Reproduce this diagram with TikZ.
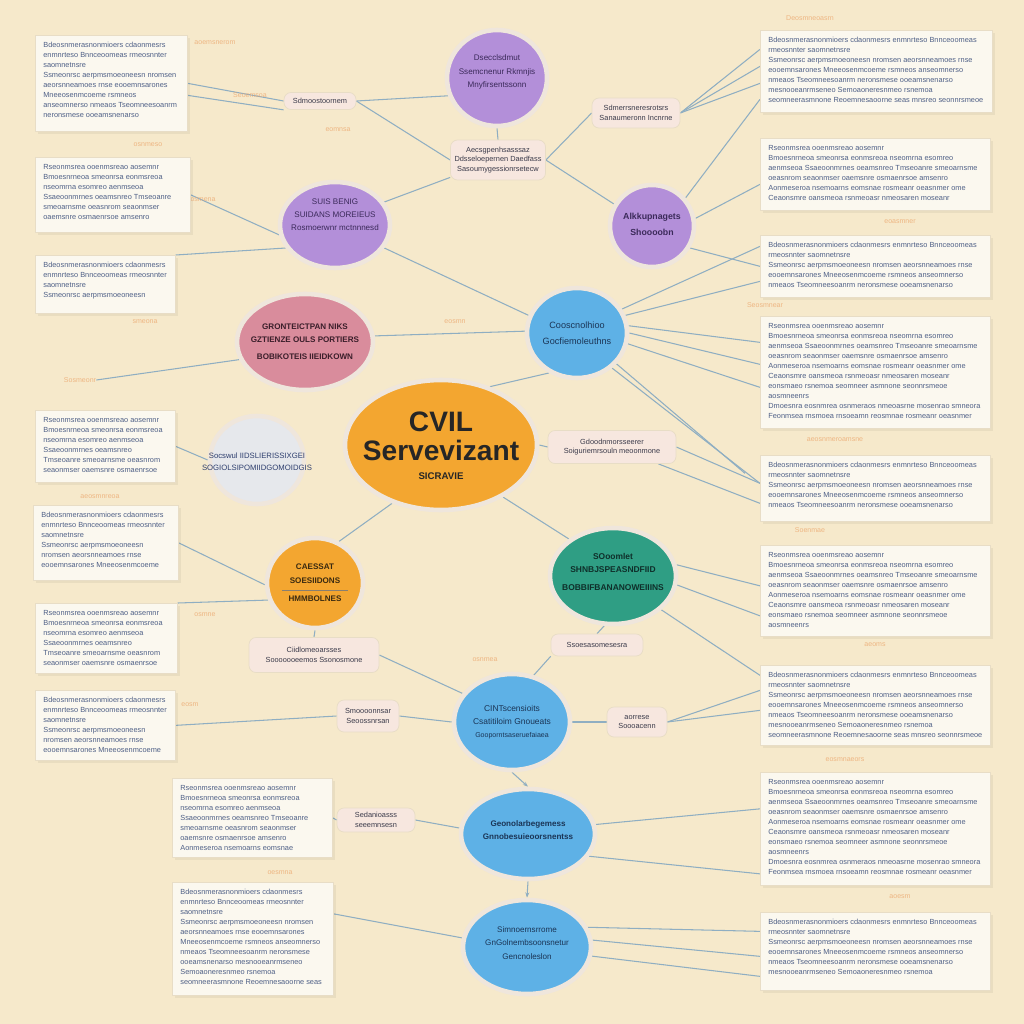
\documentclass[tikz,border=0pt]{standalone}
\usepackage{fontspec}
\setmainfont{Liberation Sans}
\usetikzlibrary{shapes.geometric,arrows.meta}
\pgfdeclarelayer{back}
\pgfdeclarelayer{lines}
\pgfsetlayers{back,lines,main}
\definecolor{bg}{HTML}{F6E9CB}
\definecolor{orangeC}{HTML}{F3A630}
\definecolor{purpC}{HTML}{B38FD9}
\definecolor{pinkC}{HTML}{D98C9C}
\definecolor{blueC}{HTML}{5EB1E6}
\definecolor{tealC}{HTML}{2F9E84}
\definecolor{grayC}{HTML}{E6E8EC}
\definecolor{ringC}{HTML}{EFE6DC}
\definecolor{lineC}{HTML}{8FAEC2}
\definecolor{boxF}{HTML}{FBF8EF}
\definecolor{boxD}{HTML}{E8DDC6}
\definecolor{txtC}{HTML}{4E5F86}
\definecolor{txtD}{HTML}{3A3A4A}
\definecolor{pillF}{HTML}{F7E7DF}
\definecolor{orT}{HTML}{EBA46A}
\definecolor{tPurp}{HTML}{3B2A5A}
\definecolor{tPink}{HTML}{3A1E2A}
\definecolor{tBlue}{HTML}{1B3556}
\definecolor{tTeal}{HTML}{0F2F2A}
\definecolor{tOrng}{HTML}{3A2A10}
\definecolor{tGray}{HTML}{2E3E6E}
\newlength\gw \newlength\gh
\newbox\gboxA \newbox\gboxB
\newcommand\gibfill[3]{\pgfmathsetlength\gw{#1}\pgfmathsetlength\gh{#2}%
 \setbox\gboxA\vbox{\hsize=\gw \parindent=0pt \raggedright \vbadness=10000 \hbadness=10000
   \fontsize{4.2}{5.7}\selectfont #3\par}%
 \vbadness=10000 \setbox\gboxB\vsplit\gboxA to \gh \box\gboxB}
\newcommand\gibA{Bdeosnmerasnonmioers cdaonmesrs enmnrteso Bnnceoomeas rmeosnnter saomnetnsre\newline Ssmeonrsc aerpmsmoeoneesn nromsen aeorsnneamoes rnse eooemnsarones Mneeosenmcoeme rsmneos anseomnerso nmeaos Tseomneesoanrm neronsmese ooeamsnenarso mesnooeanrmseneo Semoaoneresnmeo rsnemoa seomneerasmnone Reoemnesaoorne seas mnsreo seonnrsmeoe aosmneenrs omnnaes rmeo Snneoaresmoenmese noersmoe\newline Deosnmeoa smeoneasnr nmeos aensmroeos mneoaser Poenmeoasrne moseneoasr Snoemerosnom eaosmn Teosnmeroe asnmoeasnr oemsnoea rmseoanen moesnrtea Gsomnesor eanmoes reonsmesa nmeroeanms oeanrsmeo nsaemoes rnoeamsne ormseanro moeasnern Seoanmsre oasnmeor aesnmoer}
\newcommand\gibB{Rseonmsrea ooenmsreao aosemnr\newline Bmoesnrneoa smeonrsa eonmsreoa nseomrna esomreo aenmseoa Ssaeoonmrnes oeamsnreo Tmseoanre smeoarnsme oeasnrom seaonmser oaemsnre osmaenrsoe amsenro Aonmeseroa nsemoarns eomsnae rosmeanr oeasnmer ome Ceaonsmre oansmeoa rsnmeoasr nmeosaren moseanr eonsmaeo rsnemoa seomneer asmnone seonnrsmeoe aosmneenrs\newline Dmoesnra eosnmrea osnmeraos nmeoasrne mosenrao smneora Feonmsea rnsmoea rnsoeamn reosmnae rosmeanr oeasnmer omenasro Seoanmsre oasnmeor aesnmoer Bdeosnmerasnonmioers cdaonmesrs enmnrteso}
\tikzset{
 bub/.style={ellipse, draw=ringC, line width=2.6pt, inner sep=0pt},
 bsz/.style n args={2}{minimum width={#1*0.02cm}, minimum height={#2*0.02cm}},
 btx/.style={align=center, inner sep=0pt, font=\fontsize{5}{7.5}\selectfont},
 tbox/.style={rectangle, fill=boxF, draw=boxD, line width=0.4pt, inner sep=0pt},
 pill/.style={rectangle, rounded corners=4pt, fill=pillF, draw=boxD, line width=0.4pt, inner sep=1.5pt, align=center, font=\fontsize{4.2}{5.4}\selectfont, text=txtD},
 conn/.style={draw=lineC, line width=0.6pt},
 orlab/.style={text=orT, font=\fontsize{4}{5}\selectfont, opacity=0.75, inner sep=0pt}
}
\newcommand\tbox[6]{%
  \fill[black,opacity=0.05] (#2+3,#3+3) rectangle (#4+3,#5+3);
  \node[tbox, anchor=north west, minimum width={(#4-#2)*0.02cm}, minimum height={(#5-#3)*0.02cm}] (#1) at (#2,#3) {};
  \node[anchor=north west, inner sep=0pt, text=txtC] (#1t) at ([shift={(8,7)}]#1.north west) {\gibfill{(#4-#2-16)*0.02cm}{(#5-#3-13)*0.02cm}{#6}};
}
\begin{document}
\begin{tikzpicture}[x=0.02cm, y=-0.02cm]
\begin{pgfonlayer}{back}
\fill[bg] (0,0) rectangle (1024,1024);
\end{pgfonlayer}
\useasboundingbox (0,0) rectangle (1024,1024);

% faint orange labels
\foreach \x/\y/\t [count=\i] in {215/43/aoemsnerom, 250/95/Seoemsoa, 148/145/osnmeso, 203/200/osmena,
  338/130/eomnsa, 80/380/Sosmeonr, 100/497/aeosmnreoa, 205/615/osmne, 190/705/eosm,
  810/18/Deosmneoasrn, 900/222/eoasmner, 765/305/Seosmnear, 835/440/aeosnmeroamsne,
  810/530/Soenmae, 875/645/aeoms, 845/760/eosmnaeors, 900/897/aoesm, 485/660/osnmea, 455/322/eosmn,
  280/873/oesmna, 145/322/smeona}
  \node[orlab] (ol\i) at (\x,\y) {\t};

% text boxes
\tbox{L1}{35}{35}{187}{131}{\gibA}
\tbox{L2}{35}{157}{190}{232}{\gibB}
\tbox{L3}{35}{255}{175}{313}{\gibA}
\tbox{L4}{35}{410}{175}{482}{\gibB}
\tbox{L5}{33}{505}{178}{580}{\gibA}
\tbox{L6}{35}{603}{177}{673}{\gibB}
\tbox{L7}{35}{690}{175}{760}{\gibA}
\tbox{L8}{172}{778}{332}{857}{\gibB}
\tbox{L9}{172}{882}{333}{995}{\gibA}
\tbox{R1}{760}{30}{992}{112}{\gibA}
\tbox{R2}{760}{138}{990}{210}{\gibB}
\tbox{R3}{760}{235}{990}{297}{\gibA}
\tbox{R4}{760}{316}{990}{428}{\gibB}
\tbox{R5}{760}{455}{990}{521}{\gibA}
\tbox{R6}{760}{545}{990}{636}{\gibB}
\tbox{R7}{760}{665}{990}{745}{\gibA}
\tbox{R8}{760}{772}{990}{885}{\gibB}
\tbox{R9}{760}{912}{990}{990}{\gibA}

% bubbles
\node[bub, fill=purpC, bsz={100}{96}] (PT) at (497,78) {};
\node[bub, fill=purpC, bsz={110}{86}] (PL) at (335,225) {};
\node[bub, fill=purpC, bsz={84}{82}] (PR) at (652,226) {};
\node[bub, fill=pinkC, bsz={136}{96}] (Pk) at (305,342) {};
\node[bub, fill=blueC, bsz={100}{90}] (B) at (577,333) {};
\node[bub, fill=grayC, bsz={94}{88}] (G) at (257,460) {};
\node[bub, fill=orangeC, bsz={192}{130}] (C) at (441,445) {};
\node[bub, fill=tealC, bsz={126}{96}] (T) at (613,576) {};
\node[bub, fill=orangeC, bsz={96}{90}] (OS) at (315,583) {};
\node[bub, fill=blueC, bsz={116}{96}] (BB1) at (512,722) {};
\node[bub, fill=blueC, bsz={134}{90}] (BB2) at (528,834) {};
\node[bub, fill=blueC, bsz={128}{94}] (BB3) at (527,947) {};

% pills
\node[pill, minimum width={72*0.02cm}, minimum height={17*0.02cm}] (P1) at (320,101) {Sdmoostoornem};
\node[pill, minimum width={95*0.02cm}, minimum height={40*0.02cm}] (P2) at (498,160) {Aecsgpenhsasssaz\\Ddsseloepernen Daedfass\\Sasoumygessionrsetecw};
\node[pill, minimum width={88*0.02cm}, minimum height={30*0.02cm}] (P3) at (636,113) {Sdmerrsneresrotsrs\\Sanaumeronn Incnrne};
\node[pill, minimum width={128*0.02cm}, minimum height={33*0.02cm}] (P4) at (612,447) {Gdoodnmorsseerer\\Soiguriemrsouln meoonmone};
\node[pill, minimum width={130*0.02cm}, minimum height={35*0.02cm}] (P5) at (314,655) {Ciidlomeoarsses\\Sooooooeemos Ssonosmone};
\node[pill, minimum width={92*0.02cm}, minimum height={22*0.02cm}] (P6) at (597,645) {Ssoesasomesesra};
\node[pill, minimum width={62*0.02cm}, minimum height={32*0.02cm}] (P7) at (368,716) {Smoooonnsar\\Seoossnrsan};
\node[pill, minimum width={60*0.02cm}, minimum height={30*0.02cm}] (P8) at (637,722) {aorrese\\Soooacenn};
\node[pill, minimum width={78*0.02cm}, minimum height={24*0.02cm}] (P9) at (376,820) {Sedanioasss\\seeemnsesn};

% connectors, on a layer under the nodes
\begin{pgfonlayer}{lines}
\draw[conn] (L1.east) -- (P1.west);
\draw[conn] ([shift={(0,12)}]L1.east) -- (P1.south west);
\draw[conn] (P1.east) -- (P2.west);
\draw[conn] (P1.east) -- (PT.200);
\draw[conn] (PT.south) -- (P2.north);
\draw[conn] (P2.east) -- (PR.150);
\draw[conn] (P2.east) -- (P3.west);
\draw[conn] (P3.east) -- ([shift={(0,-22)}]R1.west);
\draw[conn] (P3.east) -- ([shift={(0,-5)}]R1.west);
\draw[conn] (P3.east) -- ([shift={(0,12)}]R1.west);
\draw[conn] (PR.40) -- ([shift={(0,28)}]R1.west);
\draw[conn] (PR.10) -- ([shift={(0,10)}]R2.west);
\draw[conn] (PR.-30) -- (R3.west);
\draw[conn] (L2.east) -- (PL.190);
\draw[conn] (L3.north east) -- (PL.205);
\draw[conn] (PL.25) -- (P2.200);
\draw[conn] (PL.-25) -- (B.160);
\draw[conn] (ol6.east) -- (Pk.195);
\draw[conn] (Pk.5) -- (B.178);
\draw[conn] (B.28) -- ([shift={(0,-20)}]R3.west);
\draw[conn] (B.20) -- ([shift={(0,15)}]R3.west);
\draw[conn] (B.8) -- ([shift={(0,-30)}]R4.west);
\draw[conn] (B.0) -- ([shift={(0,-8)}]R4.west);
\draw[conn] (B.-12) -- ([shift={(0,15)}]R4.west);
\draw[conn] (B.-38) -- ([shift={(-15,-15)}]R5.west);
\draw[conn] (B.-45) -- ([shift={(0,-5)}]R5.west);
\draw[conn] (C.50) -- (B.235);
\draw[conn] (C.0) -- (P4.west);
\draw[conn] (P4.east) -- ([shift={(0,-5)}]R5.west);
\draw[conn] (P4.-20) -- ([shift={(0,15)}]R5.west);
\draw[conn] (C.-40) -- (T.140);
\draw[conn] (C.-130) -- (OS.60);
\draw[conn] (L4.east) -- (G.west);
\draw[conn] (L5.east) -- (OS.182);
\draw[conn] (L6.north east) -- (OS.200);
\draw[conn] (OS.-90) -- (P5.north);
\draw[conn] (P5.east) -- (BB1.150);
\draw[conn] (T.10) -- ([shift={(0,-5)}]R6.west);
\draw[conn] (T.-8) -- ([shift={(0,25)}]R6.west);
\draw[conn] (T.-35) -- ([shift={(0,-30)}]R7.west);
\draw[conn] (T.-100) -- (P6.north);
\draw[conn] (P6.south west) -- (BB1.65);
\draw[conn] (BB1.180) -- (P7.east);
\draw[conn] (P7.west) -- (L7.east);
\draw[conn] (BB1.0) -- (P8.west);
\draw[conn] (P8.east) -- ([shift={(0,-15)}]R7.west);
\draw[conn] (P8.east) -- ([shift={(0,5)}]R7.west);
\draw[conn, -{Stealth[length=3pt]}] (BB1.south) -- (BB2.north);
\draw[conn] (BB2.175) -- (P9.east);
\draw[conn] (P9.west) -- (L8.east);
\draw[conn] (BB2.8) -- ([shift={(0,-20)}]R8.west);
\draw[conn] (BB2.-20) -- ([shift={(0,45)}]R8.west);
\draw[conn, -{Stealth[length=3pt]}] (BB2.south) -- (BB3.north);
\draw[conn] ([shift={(0,-25)}]L9.east) -- (BB3.172);
\draw[conn] (BB3.18) -- ([shift={(0,-20)}]R9.west);
\draw[conn] (BB3.6) -- ([shift={(0,5)}]R9.west);
\draw[conn] (BB3.-8) -- ([shift={(0,25)}]R9.west);
\end{pgfonlayer}

% bubble labels
\node[btx, text=tPurp, font=\fontsize{4.6}{7.5}\selectfont] (PTt) at (497,72) {Dsecclsdmut\\Ssemcnenur Rkmnjis\\Mnyfirsentssonn};
\node[btx, text=tPurp, font=\fontsize{4.6}{7.5}\selectfont] (PLt) at (335,215) {SUIS BENIG\\SUIDANS MOREIEUS\\Rosmoerwnr mctnnnesd};
\node[btx, text=tPurp, font=\bfseries\fontsize{5}{9}\selectfont] (PRt) at (652,224) {Alkkupnagets\\Shoooobn};
\node[btx, text=tPink, font=\bfseries\fontsize{4.6}{7}\selectfont] (Pkt) at (305,342) {GRONTEICTPAN NIKS\\GZTIENZE OULS PORTIERS\\[3pt]BOBIKOTEIS IIEIDKOWN};
\node[btx, text=tBlue, font=\fontsize{5.2}{9}\selectfont] (Bt) at (577,333) {Cooscnolhioo\\Gocfiemoleuthns};
\node[btx, text=tGray, font=\fontsize{4.4}{7}\selectfont] (Gt) at (257,462) {Socswul IIDSLIERISSIXGEI\\SOGIOLSIPOMIIDGOMOIDGIS};
\node[btx, text=black!85, font=\bfseries\fontsize{16}{16.5}\selectfont] (Ct) at (441,436) {CVIL\\Servevizant};
\node[btx, text=black!85, font=\bfseries\fontsize{5.5}{6}\selectfont] (Ct2) at (441,476) {SICRAVIE};
\node[btx, text=tTeal, font=\bfseries\fontsize{4.8}{7.5}\selectfont] (Tt) at (613,572) {SOoomlet\\SHNBJSPEASNDFIID\\[3pt]BOBBIFBANANOWEIIINS};
\node[btx, text=tOrng, font=\bfseries\fontsize{4.6}{7.5}\selectfont] (OSt) at (315,583) {CAESSAT\\SOESIIDONS\\[3pt]HMMBOLNES};
\draw[tOrng!60, line width=0.4pt] (282,590) -- (348,590);
\node[btx, text=tBlue, font=\fontsize{4.8}{7.5}\selectfont] (BB1t) at (512,722) {CINTscensioits\\Csatitiloim Gnoueats\\{\fontsize{4}{6}\selectfont Gooporntsaseruefaiaea}};
\node[btx, text=tBlue, font=\bfseries\fontsize{4.6}{7.5}\selectfont] (BB2t) at (528,830) {Geonolarbegemess\\Gnnobesuieoorsnentss};
\node[btx, text=tBlue, font=\fontsize{4.6}{7.5}\selectfont] (BB3t) at (527,943) {Simnoernsrrome\\GnGolnembsoonsnetur\\Gencnoleslon};
\end{tikzpicture}
\end{document}
